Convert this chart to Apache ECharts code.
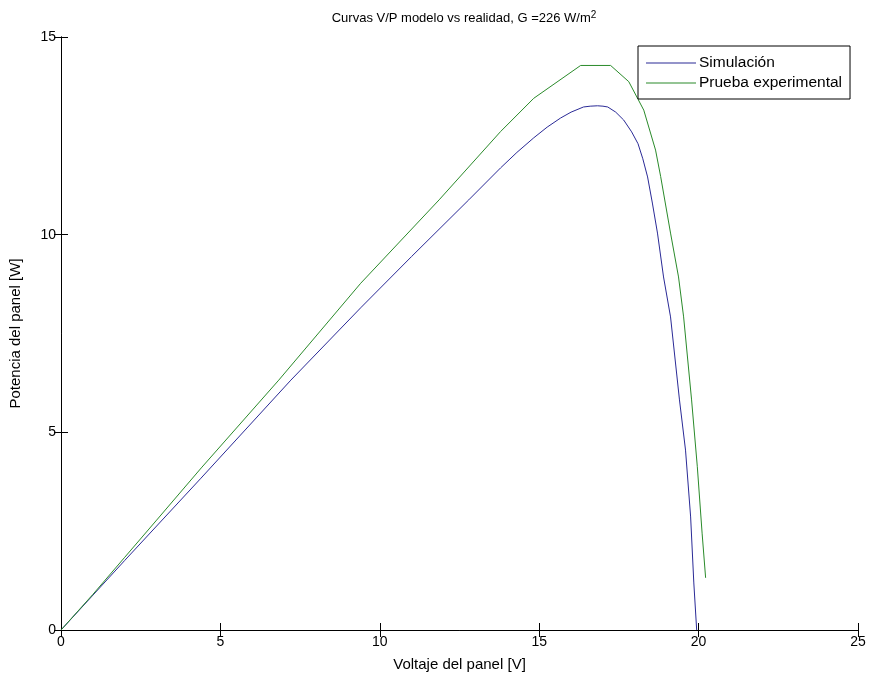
<!DOCTYPE html>
<html>
<head>
<meta charset="utf-8">
<script src="https://cdn.jsdelivr.net/npm/echarts@6/dist/echarts.min.js"></script>
<style>html,body{margin:0;padding:0;background:#fff;}#c{width:872px;height:679px;}</style>
</head>
<body>
<div id="c"></div>
<script>
const simV = [0, 2, 4.39, 7.21, 9.4, 11, 12.79, 13.79, 14.3, 14.83, 15.25, 15.67, 16.0, 16.39, 16.6, 16.83, 17.0, 17.15, 17.4, 17.65, 17.9, 18.1, 18.25, 18.4, 18.55, 18.71, 18.9, 19.12, 19.4, 19.59, 19.75, 19.85, 19.94];
const simP = [0, 1.76, 3.84, 6.32, 8.15, 9.45, 10.88, 11.69, 12.08, 12.45, 12.72, 12.95, 13.1, 13.23, 13.25, 13.26, 13.25, 13.23, 13.1, 12.9, 12.6, 12.3, 11.92, 11.46, 10.8, 10.04, 8.93, 7.92, 5.82, 4.55, 2.86, 1.19, 0];
const expV = [0, 1, 2, 3, 4.4, 6.83, 9.4, 11.86, 13.79, 14.83, 16.3, 17.24, 17.81, 18.28, 18.65, 18.81, 19.12, 19.37, 19.53, 19.78, 19.96, 20.11, 20.22];
const expP = [0, 0.9, 1.84, 2.78, 4.1, 6.32, 8.77, 10.88, 12.61, 13.45, 14.28, 14.28, 13.87, 13.15, 12.14, 11.47, 10.04, 8.93, 7.92, 5.82, 4.13, 2.45, 1.32];
const xTicks = [0, 5, 10, 15, 20, 25];
const yTicks = [0, 5, 10, 15];
const names = ['Simulación', 'Prueba experimental'];

const font = 'Liberation Sans, Arial, sans-serif';
const pair = (a, b) => a.map((v, i) => [v, b[i]]);
const axisCommon = {
  axisLine: { show: true, lineStyle: { color: '#000', width: 1 } },
  axisTick: { show: true, inside: true, length: 7, lineStyle: { color: '#000' } },
  splitLine: { show: false },
};
const blue = '#2a2a96', green = '#2a8a2a';
const chart = echarts.init(document.getElementById('c'));
chart.setOption({
  animation: false,
  backgroundColor: '#fff',
  title: {
    text: 'Curvas V/P modelo vs realidad, G =226 W/m{sup|2}',
    left: 459, top: 5, textAlign: 'center',
    textStyle: {
      fontFamily: font, fontSize: 13, fontWeight: 'normal', color: '#000',
      rich: { sup: { fontSize: 10, verticalAlign: 'top', padding: [0, 0, 6, 0], fontFamily: font, color: '#000' } }
    }
  },
  legend: {
    data: [
      { name: names[0], icon: 'rect', itemStyle: { color: blue } },
      { name: names[1], icon: 'rect', itemStyle: { color: green } }
    ],
    orient: 'vertical',
    left: 638, top: 46,
    padding: [9, 8, 8, 8],
    itemWidth: 50, itemHeight: 1, itemGap: 4,
    borderColor: '#000', borderWidth: 1, borderRadius: 0,
    backgroundColor: '#fff',
    textStyle: { fontFamily: font, fontSize: 15.5, color: '#000', padding: [0, 0, 0, -2] }
  },
  grid: { left: 60, right: 14, top: 37, bottom: 49, containLabel: false, show: false },
  xAxis: [
    Object.assign({}, axisCommon, {
      type: 'value', min: 0, max: 25, interval: 5, position: 'bottom',
      name: 'Voltaje del panel [V]', nameLocation: 'middle', nameGap: 27,
      nameTextStyle: { fontFamily: font, fontSize: 15, color: '#000' },
      axisLabel: { fontFamily: font, fontSize: 14, color: '#000', margin: 5,
        formatter: v => xTicks.includes(v) ? String(v) : '' }
    }),
    Object.assign({}, axisCommon, {
      type: 'value', min: 0, max: 25, interval: 5, position: 'top',
      axisLabel: { show: false }
    })
  ],
  yAxis: [
    Object.assign({}, axisCommon, {
      type: 'value', min: 0, max: 15, interval: 5, position: 'left',
      name: 'Potencia del panel [W]', nameLocation: 'middle', nameGap: 38, nameRotate: 90,
      nameTextStyle: { fontFamily: font, fontSize: 15, color: '#000' },
      axisLabel: { fontFamily: font, fontSize: 14, color: '#000', margin: 5,
        formatter: v => yTicks.includes(v) ? String(v) : '' }
    }),
    Object.assign({}, axisCommon, {
      type: 'value', min: 0, max: 15, interval: 5, position: 'right',
      axisLabel: { show: false }
    })
  ],
  series: [
    {
      name: names[0], type: 'line', data: pair(simV, simP),
      xAxisIndex: 0, yAxisIndex: 0,
      symbol: 'none', smooth: false,
      lineStyle: { color: blue, width: 1 }, itemStyle: { color: blue }
    },
    {
      name: names[1], type: 'line', data: pair(expV, expP),
      xAxisIndex: 0, yAxisIndex: 0,
      symbol: 'none', smooth: false,
      lineStyle: { color: green, width: 1 }, itemStyle: { color: green }
    }
  ]
});
</script>
</body>
</html>
